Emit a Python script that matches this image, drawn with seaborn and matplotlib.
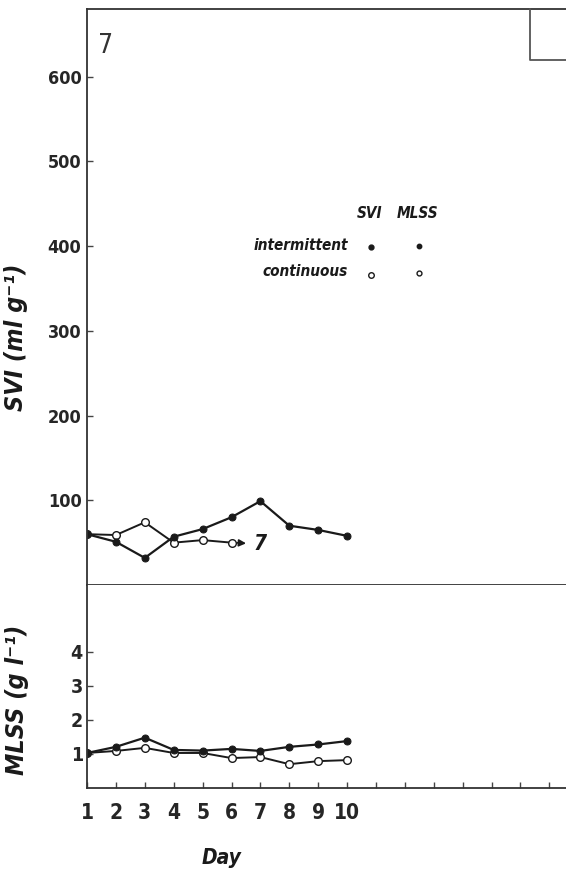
import matplotlib
matplotlib.use("Agg")
import matplotlib.pyplot as plt
import seaborn as sns
import pandas as pd
from matplotlib.lines import Line2D

days = [1, 2, 3, 4, 5, 6, 7, 8, 9, 10]
svi_intermittent = [60, 51, 32, 57, 66, 80, 99, 70, 65, 58]
days_cont_svi = [1, 2, 3, 4, 5, 6]
svi_continuous = [60, 59, 74, 50, 53, 50]
mlss_intermittent = [1.03, 1.21, 1.48, 1.12, 1.10, 1.15, 1.09, 1.21, 1.28, 1.38]
mlss_continuous = [1.03, 1.09, 1.18, 1.03, 1.03, 0.88, 0.91, 0.70, 0.79, 0.82]
svi_ticks = [100, 200, 300, 400, 500, 600]
mlss_ticks = [1, 2, 3, 4]
day_ticks = list(range(1, 18))
day_labels = [str(d) if d <= 10 else "" for d in day_ticks]

sns.set_style("ticks")
plt.rcParams['font.family'] = ['DejaVu Sans']
plt.rcParams['font.stretch'] = 'condensed'

W, H = 566, 871
fig = plt.figure(figsize=(W / 100, H / 100), dpi=100)

def fx(px):
    return px / W

def fy(py):
    return 1 - py / H

x_left = 87
x_right = 566
ax_top = fig.add_axes([fx(x_left), fy(585), fx(x_right - x_left), (585 - 9) / H])
ax_bot = fig.add_axes([fx(x_left), fy(788), fx(x_right - x_left), (788 - 585) / H])

xmax = 1 + (x_right - x_left) / 28.9
ink = "#1a1a1a"

df_si = pd.DataFrame({"day": days, "v": svi_intermittent})
df_sc = pd.DataFrame({"day": days_cont_svi, "v": svi_continuous})
df_mi = pd.DataFrame({"day": days, "v": mlss_intermittent})
df_mc = pd.DataFrame({"day": days, "v": mlss_continuous})

kw_open = dict(color=ink, linewidth=1.4, marker="o", markersize=5.5,
               markerfacecolor="white", markeredgecolor=ink, markeredgewidth=1.0)
kw_fill = dict(color=ink, linewidth=1.6, marker="o", markersize=5,
               markerfacecolor=ink, markeredgecolor=ink)

sns.lineplot(data=df_sc, x="day", y="v", ax=ax_top, **kw_open)
sns.lineplot(data=df_si, x="day", y="v", ax=ax_top, **kw_fill)
sns.lineplot(data=df_mc, x="day", y="v", ax=ax_bot, **kw_open)
sns.lineplot(data=df_mi, x="day", y="v", ax=ax_bot, **kw_fill)

# arrow after continuous SVI
ax_top.annotate("", xy=(days_cont_svi[-1] + 0.6, svi_continuous[-1] - 1),
                xytext=(days_cont_svi[-1] + 0.1, svi_continuous[-1]),
                arrowprops=dict(arrowstyle="-|>", color=ink, lw=1.3, mutation_scale=10))
ax_top.text(days_cont_svi[-1] + 0.75, svi_continuous[-1] - 2, "7", fontsize=15,
            fontweight="bold", fontstyle="italic", color=ink, va="center", ha="left")

for ax in (ax_top, ax_bot):
    ax.set_xlim(1, xmax)
    ax.spines["right"].set_visible(False)
    for s in ax.spines.values():
        s.set_color("#333333")
        s.set_linewidth(1.3)
    ax.set_xlabel("")
    ax.set_ylabel("")
    ax.tick_params(direction="in", length=4, width=1, color="#444444")

ax_top.set_ylim(0, 680)
ax_top.set_yticks(svi_ticks)
ax_top.set_yticklabels([str(t) for t in svi_ticks], fontsize=13, fontweight="bold")
ax_top.set_xticks([])
ax_top.tick_params(axis="y", pad=4)

ax_bot.set_ylim(0, 5.97)
ax_bot.spines["top"].set_visible(False)
ax_bot.set_yticks(mlss_ticks)
ax_bot.set_yticklabels([str(t) for t in mlss_ticks], fontsize=14, fontweight="bold")
ax_bot.set_xticks(day_ticks)
ax_bot.set_xticklabels(day_labels, fontsize=15, fontweight="bold")
ax_bot.tick_params(axis="x", pad=11)
ax_bot.tick_params(axis="y", pad=3)

# panel number
ax_top.text(0.024, 0.958, "7", transform=ax_top.transAxes, fontsize=19,
            color="#333333", va="top", ha="left")

# axis labels
fig.text(fx(16), fy(337), "SVI (ml g⁻¹)", rotation=90, fontsize=18, fontweight="bold",
         fontstyle="italic", ha="center", va="center", color=ink)
fig.text(fx(17), fy(700), "MLSS (g l⁻¹)", rotation=90, fontsize=18, fontweight="bold",
         fontstyle="italic", ha="center", va="center", color=ink)
fig.text(fx(222), fy(858), "Day", fontsize=15, fontweight="bold", fontstyle="italic",
         ha="center", va="center", color=ink)

# legend block
lk = dict(fontsize=11, fontweight="bold", fontstyle="italic", color=ink)
fig.text(fx(370), fy(213), "SVI", ha="center", va="center", **lk)
fig.text(fx(418), fy(213), "MLSS", ha="center", va="center", **lk)
fig.text(fx(348), fy(245), "intermittent", ha="right", va="center", **lk)
fig.text(fx(348), fy(272), "continuous", ha="right", va="center", **lk)
fig.add_artist(Line2D([fx(371)], [fy(247)], marker="o", markersize=3.5, color=ink,
                      linestyle="none", transform=fig.transFigure))
fig.add_artist(Line2D([fx(419)], [fy(246)], marker="o", markersize=3.2, color=ink,
                      linestyle="none", transform=fig.transFigure))
fig.add_artist(Line2D([fx(371)], [fy(275)], marker="o", markersize=4, color=ink,
                      markerfacecolor="white", linestyle="none", transform=fig.transFigure))
fig.add_artist(Line2D([fx(419)], [fy(273)], marker="o", markersize=3.5, color=ink,
                      markerfacecolor="white", linestyle="none", transform=fig.transFigure))

# neighbouring panel frame fragment at top right
fig.add_artist(Line2D([fx(530), fx(530), fx(566)], [fy(9), fy(60), fy(60)],
                      color="#555555", linewidth=1.3, transform=fig.transFigure))

fig.savefig("out.png", dpi=100)
